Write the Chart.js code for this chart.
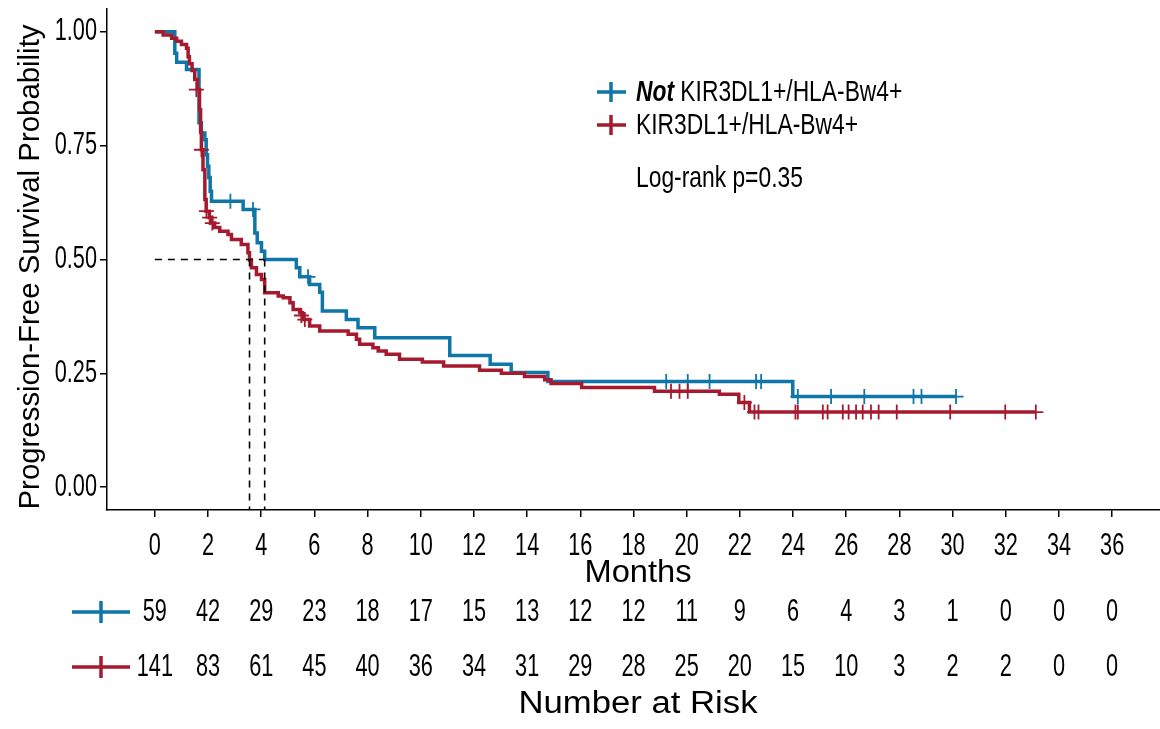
<!DOCTYPE html>
<html>
<head>
<meta charset="utf-8">
<script src="https://cdn.jsdelivr.net/npm/chart.js@4.4.0/dist/chart.umd.min.js"></script>
<style>
  html, body { margin: 0; padding: 0; background: #fff; }
</style>
</head>
<body>
<canvas id="kmChart" width="1160" height="729"></canvas>
<script>
// Not KIR3DL1+/HLA-Bw4+  (n = 59)
const notTime = [0, 0.75, 0.82, 1.19, 1.66, 1.75, 1.88, 1.93, 1.98, 2.03, 2.08, 2.13, 3.32, 3.76, 3.85, 4.01, 4.13,
  5.32, 5.45, 5.82, 6.2, 6.3, 7.2, 7.64, 8.27, 11.09, 12.61, 13.4, 14.78, 23.99, 30.13];
const notSurv = [1.0, 0.953, 0.933, 0.917, 0.80, 0.778, 0.763, 0.73, 0.705, 0.68, 0.65, 0.628, 0.61, 0.558, 0.537, 0.518, 0.50,
  0.482, 0.462, 0.445, 0.428, 0.387, 0.368, 0.350, 0.328, 0.289, 0.270, 0.252, 0.232, 0.199, 0.199];
const notCensTime = [2.84, 3.69, 5.76, 19.23, 20.04, 20.86, 22.61, 22.8, 24.18, 25.43, 26.68, 28.53, 28.83, 30.13];
const notCensSurv = [0.628, 0.61, 0.462, 0.232, 0.232, 0.232, 0.232, 0.232, 0.199, 0.199, 0.199, 0.199, 0.199, 0.199];

// KIR3DL1+/HLA-Bw4+  (n = 141)
const kirTime = [0, 0.31, 0.63, 0.82, 1.0, 1.19, 1.25, 1.3, 1.4, 1.5, 1.6, 1.68, 1.72, 1.75, 1.81, 1.88, 1.93, 2.05, 2.14,
  2.25, 2.44, 2.75, 2.88, 3.25, 3.5, 3.56, 3.63, 3.82, 4.01, 4.13, 4.64, 4.83, 5.08, 5.2, 5.45, 5.55, 5.82, 6.2,
  7.27, 7.58, 7.7, 8.2, 8.4, 8.7, 9.2, 10.06, 10.86, 12.21, 13.03, 13.9, 14.66, 14.9, 16.05, 18.79, 21.23, 21.96, 22.36, 33.13];
const kirSurv = [1.0, 0.993, 0.986, 0.979, 0.972, 0.964, 0.945, 0.93, 0.915, 0.895, 0.873, 0.829, 0.78, 0.741, 0.697, 0.632, 0.606, 0.592, 0.580,
  0.570, 0.562, 0.555, 0.544, 0.533, 0.515, 0.499, 0.482, 0.467, 0.456, 0.427, 0.420, 0.416, 0.405, 0.390, 0.383, 0.368, 0.354, 0.343,
  0.336, 0.325, 0.314, 0.306, 0.299, 0.292, 0.281, 0.275, 0.266, 0.257, 0.250, 0.243, 0.236, 0.228, 0.219, 0.211, 0.204, 0.186, 0.165, 0.165];
const kirCensTime = [1.56, 1.75, 1.94, 2.06, 2.16, 5.51, 5.64, 19.41, 19.73, 20.04, 22.17, 22.55, 22.7, 24.09, 24.18, 25.12, 25.3,
  25.87, 26.09, 26.37, 26.62, 26.93, 27.22, 27.9, 29.91, 31.98, 33.13];
const kirCensSurv = [0.873, 0.741, 0.606, 0.592, 0.580, 0.377, 0.368, 0.211, 0.211, 0.211, 0.186, 0.165, 0.165, 0.165, 0.165, 0.165, 0.165,
  0.165, 0.165, 0.165, 0.165, 0.165, 0.165, 0.165, 0.165, 0.165, 0.165];

// median survival (dashed guides)
const medianTimes = [3.56, 4.13];
const medianLevel = 0.5;

// axes and number at risk
const xTicks = [0, 2, 4, 6, 8, 10, 12, 14, 16, 18, 20, 22, 24, 26, 28, 30, 32, 34, 36];
const yTicks = [0, 0.25, 0.5, 0.75, 1.0];
const notRisk = [59, 42, 29, 23, 18, 17, 15, 13, 12, 12, 11, 9, 6, 4, 3, 1, 0, 0, 0];
const kirRisk = [141, 83, 61, 45, 40, 36, 34, 31, 29, 28, 25, 20, 15, 10, 3, 2, 2, 0, 0];

const groupNames = ['KIR3DL1+/HLA-Bw4+', 'KIR3DL1+/HLA-Bw4+'];
const pText = 'Log-rank p=0.35';

const BLUE = '#0E76A8';
const RED = '#A61A2F';
const FONT = '"Liberation Sans", Arial, sans-serif';

const pts = (xs, ys) => xs.map((t, i) => ({ x: t, y: ys[i] }));

// draw text squeezed/stretched horizontally by sx
function drawText(ctx, text, x, y, font, sx, align) {
  ctx.save();
  ctx.font = font;
  ctx.textAlign = align || 'center';
  ctx.textBaseline = 'middle';
  ctx.translate(x, y);
  ctx.scale(sx, 1);
  ctx.fillText(text, 0, 0);
  ctx.restore();
}
function fitScale(ctx, text, font, width) {
  ctx.save();
  ctx.font = font;
  const w = ctx.measureText(text).width;
  ctx.restore();
  return width / w;
}

const textPlugin = {
  id: 'kmText',
  afterDraw(chart) {
    const ctx = chart.ctx;
    const xs = chart.scales.x, ys = chart.scales.y;
    ctx.fillStyle = '#000';
    const numFont = '31px ' + FONT;
    const numSx = 0.7;

    // tick labels
    xTicks.forEach(v => drawText(ctx, String(v), xs.getPixelForValue(v), 546, numFont, numSx, 'center'));
    yTicks.forEach(v => drawText(ctx, v.toFixed(2), 97, ys.getPixelForValue(v), numFont, numSx, 'right'));

    // axis titles
    const tFont = '31px ' + FONT;
    drawText(ctx, 'Months', 638, 573, tFont, fitScale(ctx, 'Months', tFont, 107), 'center');
    drawText(ctx, 'Number at Risk', 638, 704, tFont, fitScale(ctx, 'Number at Risk', tFont, 239), 'center');
    const yTitle = 'Progression-Free Survival Probability';
    ctx.save();
    ctx.translate(31, 267);
    ctx.rotate(-Math.PI / 2);
    drawText(ctx, yTitle, 0, 0, '29px ' + FONT, fitScale(ctx, yTitle, '29px ' + FONT, 485), 'center');
    ctx.restore();

    // risk table
    [[notRisk, BLUE, 612], [kirRisk, RED, 667]].forEach(([row, col, yy]) => {
      ctx.save();
      ctx.strokeStyle = col;
      ctx.lineWidth = 3.5;
      ctx.beginPath();
      ctx.moveTo(72, yy); ctx.lineTo(130, yy);
      ctx.moveTo(101, yy - 11); ctx.lineTo(101, yy + 11);
      ctx.stroke();
      ctx.restore();
      ctx.fillStyle = '#000';
      row.forEach((n, i) => drawText(ctx, String(n), xs.getPixelForValue(xTicks[i]), yy, numFont, numSx, 'center'));
    });

    // legend
    const lFont = '30px ' + FONT;
    const lSx = fitScale(ctx, groupNames[1], lFont, 222);
    [[BLUE, 92], [RED, 125]].forEach(([col, yy]) => {
      ctx.save();
      ctx.strokeStyle = col;
      ctx.lineWidth = 3.5;
      ctx.beginPath();
      ctx.moveTo(597, yy); ctx.lineTo(626, yy);
      ctx.moveTo(611, yy - 10); ctx.lineTo(611, yy + 10);
      ctx.stroke();
      ctx.restore();
    });
    ctx.fillStyle = '#000';
    const bFont = 'italic bold 30px ' + FONT;
    drawText(ctx, 'Not', 636, 93, bFont, lSx, 'left');
    ctx.save(); ctx.font = bFont;
    const notW = ctx.measureText('Not ').width * lSx;
    ctx.restore();
    drawText(ctx, groupNames[0], 636 + notW, 93, lFont, lSx, 'left');
    drawText(ctx, groupNames[1], 636, 126, lFont, lSx, 'left');
    drawText(ctx, pText, 636, 179, lFont, lSx, 'left');
  }
};

const axisGrid = { display: true, drawOnChartArea: false, drawTicks: true, tickLength: 7, color: '#000', lineWidth: 1.5 };
const axisBorder = { display: true, color: '#000', width: 1.5 };

new Chart(document.getElementById('kmChart'), {
  type: 'line',
  data: {
    datasets: [
      { data: pts(kirCensTime, kirCensSurv), showLine: false, pointStyle: 'cross', pointRadius: 7.5,
        borderColor: RED, borderWidth: 1.8, order: 1 },
      { data: pts(kirTime, kirSurv), stepped: true, borderColor: RED, borderWidth: 3.5, pointRadius: 0, order: 2 },
      { data: pts(notCensTime, notCensSurv), showLine: false, pointStyle: 'cross', pointRadius: 7.5,
        borderColor: BLUE, borderWidth: 1.8, order: 3 },
      { data: pts(notTime, notSurv), stepped: true, borderColor: BLUE, borderWidth: 3.5, pointRadius: 0, order: 4 },
      { data: [{ x: 0, y: medianLevel }, { x: medianTimes[1], y: medianLevel }], borderColor: '#000', borderWidth: 1.6,
        borderDash: [7, 6], pointRadius: 0, order: 0 },
      { data: [{ x: medianTimes[0], y: medianLevel }, { x: medianTimes[0], y: -0.05 }], borderColor: '#000', borderWidth: 1.6,
        borderDash: [7, 6], pointRadius: 0, order: 0 },
      { data: [{ x: medianTimes[1], y: medianLevel }, { x: medianTimes[1], y: -0.05 }], borderColor: '#000', borderWidth: 1.6,
        borderDash: [7, 6], pointRadius: 0, order: 0 }
    ]
  },
  options: {
    responsive: false,
    animation: false,
    devicePixelRatio: 1,
    layout: { autoPadding: false, padding: { top: 9, left: 0, right: 0, bottom: 0 } },
    plugins: { legend: { display: false }, tooltip: { enabled: false } },
    events: [],
    scales: {
      x: {
        type: 'linear', min: -1.8, max: 37.8,
        afterBuildTicks: s => { s.ticks = xTicks.map(v => ({ value: v })); },
        afterFit: s => { s.height = 219; s.paddingLeft = 0; s.paddingRight = 0; },
        ticks: { display: false },
        grid: axisGrid, border: axisBorder
      },
      y: {
        type: 'linear', min: -0.05, max: 1.05,
        afterBuildTicks: s => { s.ticks = yTicks.map(v => ({ value: v })); },
        afterFit: s => { s.width = 107; s.paddingTop = 0; s.paddingBottom = 0; },
        ticks: { display: false },
        grid: axisGrid, border: axisBorder
      }
    }
  },
  plugins: [textPlugin]
});
</script>
</body>
</html>
